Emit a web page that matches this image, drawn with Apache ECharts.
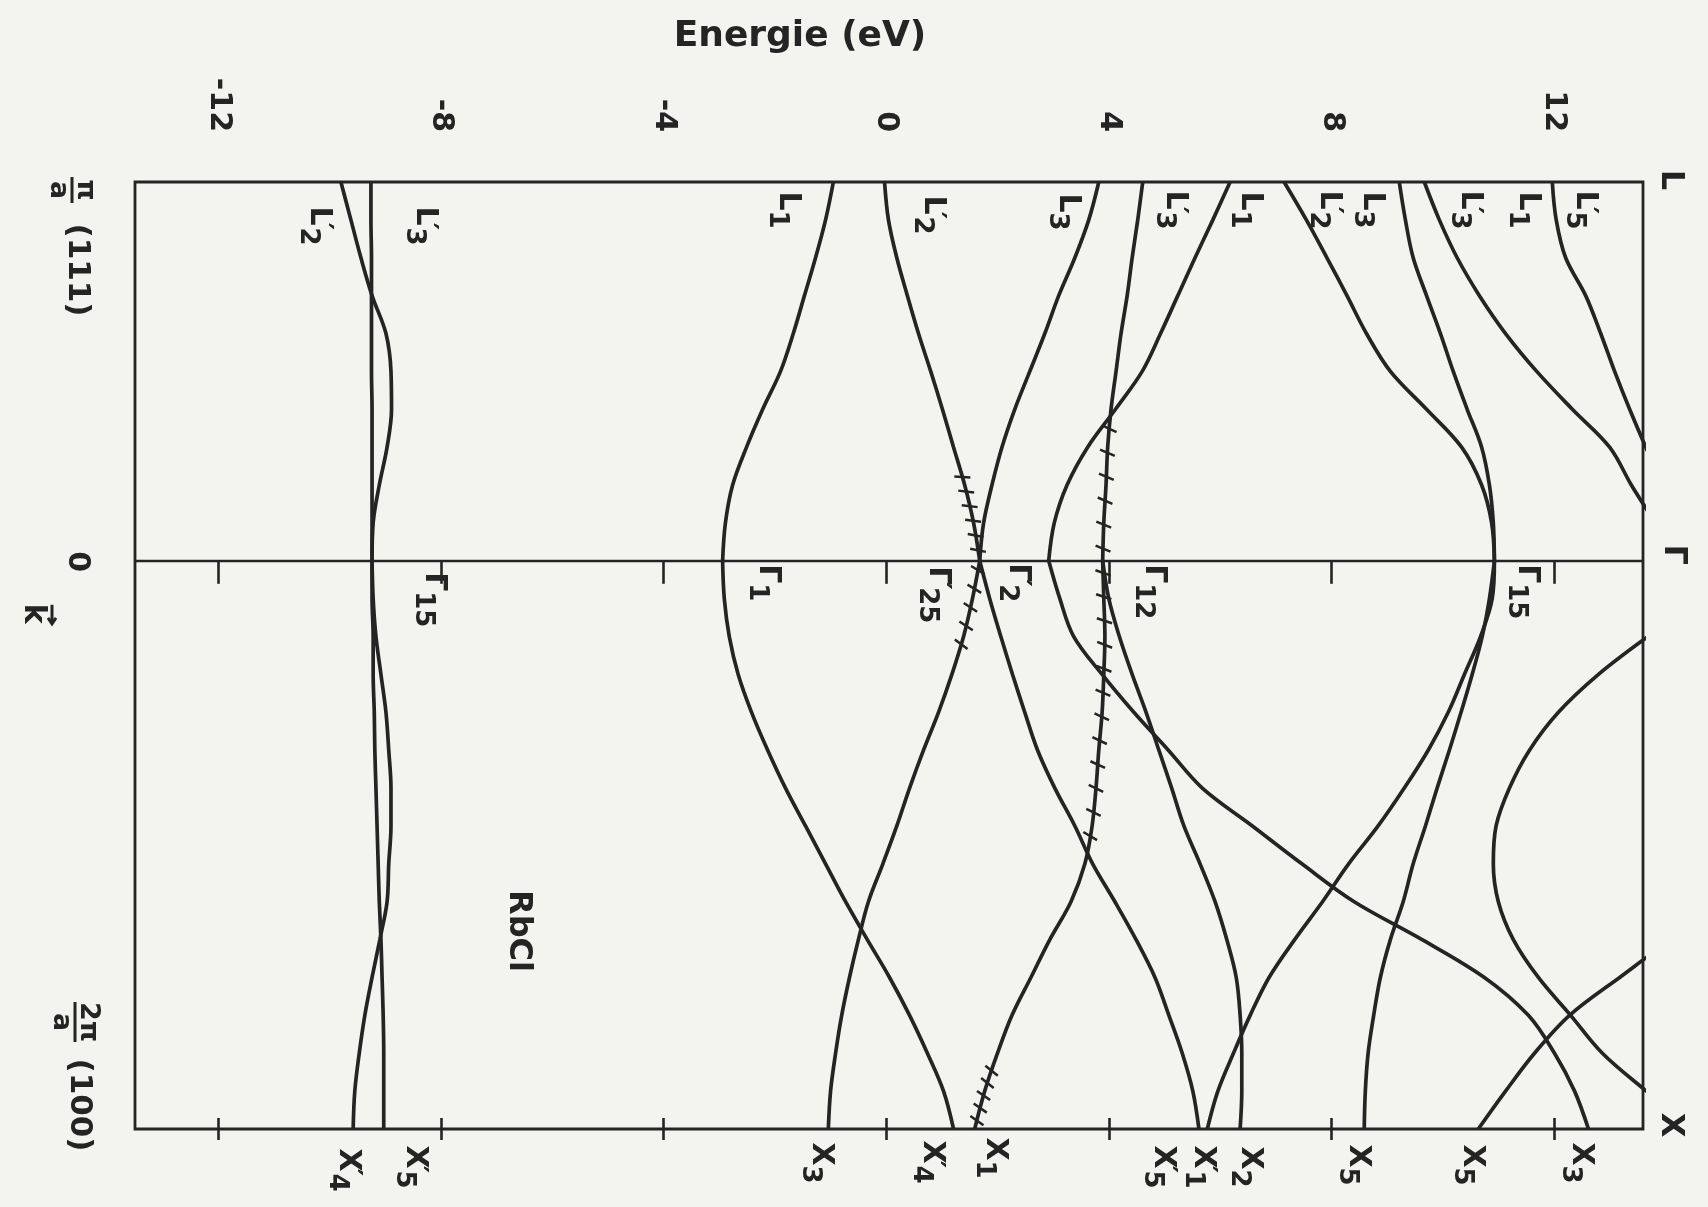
<!DOCTYPE html>
<html>
<head>
<meta charset="utf-8">
<title>RbCl band structure</title>
<script src="https://cdn.jsdelivr.net/npm/echarts@6/dist/echarts.min.js"></script>
<style>
  html, body { margin: 0; padding: 0; background: #f3f3f0; }
  #chart { width: 1708px; height: 1207px; }
</style>
</head>
<body>
<div id="chart"></div>
<script>
// ---- k path: L (-1) -> Γ (0) -> X (1.5), energies in eV ----
const kL = [-1, -0.9, -0.8, -0.7, -0.6, -0.5, -0.4, -0.3, -0.2, -0.1, 0];
const kX = [0, 0.1, 0.2, 0.3, 0.4, 0.5, 0.6, 0.7, 0.8, 0.9, 1.0, 1.1, 1.2, 1.3, 1.4, 1.5];

// Λ direction (L -> Γ)
const lBand1  = [-9.80, -9.62, -9.44, -9.24, -8.99, -8.90, -8.89, -8.97, -9.11, -9.22, -9.24];
const lBand2  = [-9.26, -9.26, -9.25, -9.25, -9.25, -9.25, -9.24, -9.24, -9.24, -9.24, -9.24];
const lBand3  = [-0.95, -1.09, -1.27, -1.47, -1.67, -1.90, -2.22, -2.51, -2.76, -2.89, -2.94];
const lBand4  = [-0.03, 0.04, 0.19, 0.38, 0.58, 0.80, 1.01, 1.21, 1.41, 1.57, 1.68];
const lBand5  = [3.82, 3.64, 3.39, 3.10, 2.85, 2.58, 2.31, 2.08, 1.90, 1.75, 1.68];
const lBand6  = [4.61, 4.52, 4.42, 4.33, 4.22, 4.13, 4.04, 3.98, 3.95, 3.91, 3.89];
const lBand7  = [6.18, 5.87, 5.55, 5.24, 4.93, 4.60, 4.12, 3.62, 3.25, 3.02, 2.92];
const lBand8  = [7.15, 7.55, 7.92, 8.28, 8.63, 9.06, 9.71, 10.34, 10.70, 10.88, 10.93];
const lBand9  = [9.22, 9.33, 9.47, 9.71, 9.96, 10.19, 10.44, 10.70, 10.84, 10.91, 10.93];
const lBand10 = [9.67, 9.94, 10.26, 10.66, 11.13, 11.69, 12.33, 13.00, 13.39, 13.81, 14.13];
const lBand11 = [11.97, 12.04, 12.21, 12.57, 12.84, 13.09, 13.36, 13.65, 13.96, 14.23, 14.50];

// Δ direction (Γ -> X)
const xBand1  = [-9.24, -9.22, -9.17, -9.08, -8.99, -8.94, -8.90, -8.90, -8.94, -8.97, -9.10, -9.24, -9.37, -9.47, -9.55, -9.58];
const xBand2  = [-9.24, -9.24, -9.22, -9.22, -9.20, -9.19, -9.17, -9.15, -9.13, -9.11, -9.08, -9.06, -9.04, -9.03, -9.03, -9.03];
const xBand3  = [-2.94, -2.91, -2.82, -2.66, -2.42, -2.13, -1.81, -1.45, -1.09, -0.73, -0.34, 0.06, 0.42, 0.74, 1.03, 1.21];
const xBand4  = [1.68, 1.55, 1.39, 1.18, 0.94, 0.67, 0.42, 0.19, -0.06, -0.32, -0.50, -0.66, -0.80, -0.91, -1.00, -1.04];
const xBand5  = [1.68, 1.86, 2.06, 2.27, 2.49, 2.72, 3.03, 3.39, 3.71, 4.11, 4.49, 4.83, 5.08, 5.32, 5.51, 5.62];
const xBand6  = [3.89, 3.91, 3.93, 3.91, 3.88, 3.82, 3.77, 3.70, 3.57, 3.32, 2.94, 2.60, 2.26, 2.00, 1.77, 1.59];
const xBand7  = [3.89, 4.00, 4.19, 4.42, 4.67, 4.90, 5.13, 5.35, 5.64, 5.91, 6.12, 6.29, 6.36, 6.39, 6.39, 6.36];
const xBand8  = [2.92, 3.12, 3.37, 3.88, 4.45, 5.07, 5.68, 6.58, 7.47, 8.41, 9.63, 10.75, 11.54, 12.01, 12.37, 12.62];
const xBand9  = [10.93, 10.89, 10.68, 10.39, 10.10, 9.74, 9.31, 8.84, 8.31, 7.84, 7.34, 6.88, 6.54, 6.24, 5.96, 5.77];
const xBand10 = [10.93, 10.84, 10.71, 10.53, 10.33, 10.12, 9.90, 9.69, 9.47, 9.29, 9.06, 8.88, 8.76, 8.66, 8.61, 8.59];
const xBand11 = [15.75, 14.67, 13.69, 12.80, 12.08, 11.56, 11.20, 10.96, 10.91, 11.00, 11.27, 11.72, 12.30, 12.87, 13.66, 14.49];
const xBand12 = [null, null, null, null, null, null, null, null, null, 15.40, 14.13, 13.18, 12.28, 11.65, 11.13, 10.64];

// level names at the symmetry points: [name, level energy (eV)]
const levelsL = [["L'2", -9.80], ["L'3", -9.25], ["L1", -0.95], ["L'2", -0.03], ["L3", 3.82], ["L'3", 4.61],
                 ["L1", 6.18], ["L'2", 7.15], ["L3", 9.22], ["L'3", 9.67], ["L1", 11.97], ["L'5", 11.97]];
const levelsG = [["Γ15", -9.24], ["Γ1", -2.94], ["Γ25'", 1.68], ["Γ'2", 2.92], ["Γ12", 3.89], ["Γ15", 10.93]];
const levelsX = [["X'4", -9.58], ["X'5", -9.03], ["X3", -1.04], ["X'4", 1.21], ["X1", 1.59], ["X'5", 5.62],
                 ["X'1", 5.77], ["X2", 6.36], ["X5", 8.59], ["X5", 10.64], ["X3", 12.62]];

const energyTicks = [-12, -8, -4, 0, 4, 8, 12];

// ---- layout / style ----
const E_MIN = -13.5, E_MAX = 13.6, K_L = -1, K_G = 0, K_X = 1.5;
const INK = '#242424';
const FONT = "'DejaVu Sans', 'Liberation Sans', sans-serif";
const WEIGHT = 'bold';

// label offsets in pixels from the level they name
const offL = [[-22, 44], [53, 44], [-46, 28], [48, 33], [-31, 30], [32, 28], [20, 28], [45, 28], [-27, 28], [45, 28], [-25, 28], [32, 28]];
const offG = [[62, 39], [45, 22], [-42, 34], [-31, 22], [51, 31], [32, 31]];
const offX = [[-5, 41], [31, 38], [-8, 34], [-22, 33], [20, 29], [-36, 38], [-4, 38], [10, 38], [-6, 36], [-6, 36], [-8, 34]];

const lBands = [lBand1, lBand2, lBand3, lBand4, lBand5, lBand6, lBand7, lBand8, lBand9, lBand10, lBand11];
const xBands = [xBand1, xBand2, xBand3, xBand4, xBand5, xBand6, xBand7, xBand8, xBand9, xBand10, xBand11, xBand12];

// stretches of bands marked with cross hatching (k range, spacing in px)
const hatched = [
  { band: lBand4, k: kL, from: -0.24, to: 0, step: 15 },
  { band: xBand4, k: kX, from: 0, to: 0.25, step: 19 },
  { band: lBand6, k: kL, from: -0.38, to: 0, step: 24 },
  { band: xBand6, k: kX, from: 0, to: 0.77, step: 24 },
  { band: xBand6, k: kX, from: 1.33, to: 1.5, step: 13 }
];

function toPoints(ks, es) {
  const out = [];
  es.forEach((e, i) => { if (e != null) out.push([e, ks[i]]); });
  return out;
}

const RICH = {
  m: { fontSize: 30, lineHeight: 30, verticalAlign: 'top', fontFamily: FONT, fontWeight: WEIGHT, fill: INK },
  p: { fontSize: 28, lineHeight: 30, verticalAlign: 'top', width: 2, fontFamily: FONT, fontWeight: WEIGHT, fill: INK },
  s: { fontSize: 26, lineHeight: 26, padding: [13, 0, 0, 0], verticalAlign: 'top', fontFamily: FONT, fontWeight: WEIGHT, fill: INK }
};

function symText(name) {
  const base = name.charAt(0);
  const prime = name.indexOf("'") >= 0;
  const sub = name.replace(/[^0-9]/g, '');
  return '{m|' + base + '}' + (prime ? '{p|\u2032}' : '') + '{s|' + sub + '}';
}

const labelItems = [];
levelsL.forEach((l, i) => labelItems.push({ kind: 'sym', name: l[0], e: l[1], k: K_L, dx: offL[i][0], dy: offL[i][1] }));
levelsG.forEach((l, i) => labelItems.push({ kind: 'sym', name: l[0], e: l[1], k: K_G, dx: offG[i][0], dy: offG[i][1] }));
levelsX.forEach((l, i) => labelItems.push({ kind: 'sym', name: l[0], e: l[1], k: K_X, dx: offX[i][0], dy: offX[i][1] }));
// symmetry points on the right edge, k scale on the left edge
labelItems.push({ kind: 'text', text: 'L', e: E_MAX, k: K_L, dx: 27, dy: -2, size: 32 });
labelItems.push({ kind: 'text', text: 'Γ', e: E_MAX, k: K_G, dx: 30, dy: -6, size: 32 });
labelItems.push({ kind: 'text', text: 'X', e: E_MAX, k: K_X, dx: 27, dy: -4, size: 32 });
labelItems.push({ kind: 'frac', num: 'π', den: 'a', e: E_MIN, k: K_L, dx: -63, dy: 8 });
labelItems.push({ kind: 'text', text: '(111)', e: E_MIN, k: K_L, dx: -58, dy: 88, size: 31 });
labelItems.push({ kind: 'text', text: '0', e: E_MIN, k: K_G, dx: -58, dy: 1, size: 30 });
labelItems.push({ kind: 'vec', text: 'k', e: E_MIN, k: K_G, dx: -100, dy: 53 });
labelItems.push({ kind: 'frac', num: '2π', den: 'a', e: E_MIN, k: K_X, dx: -60, dy: -107 });
labelItems.push({ kind: 'text', text: '(100)', e: E_MIN, k: K_X, dx: -56, dy: -24, size: 31 });

function txt(text, x, y, size) {
  return { type: 'text', x, y, style: { text, align: 'center', verticalAlign: 'middle', fill: INK,
    fontFamily: FONT, fontWeight: WEIGHT, fontSize: size } };
}

function labelItem(params, api) {
  const L = labelItems[params.dataIndex];
  const p = api.coord([L.e, L.k]);
  const x = p[0] + L.dx, y = p[1] + L.dy;
  const rot = -Math.PI / 2;
  if (L.kind === 'sym') {
    return { type: 'text', x, y, rotation: rot,
      style: { text: symText(L.name), rich: RICH, align: 'center', verticalAlign: 'middle', fill: INK,
        fontFamily: FONT, fontWeight: WEIGHT, fontSize: 30 } };
  }
  if (L.kind === 'text') {
    const t = txt(L.text, x, y, L.size);
    t.rotation = rot;
    return t;
  }
  if (L.kind === 'frac') {
    const w = L.num.length > 1 ? 40 : 26;
    return { type: 'group', x, y, rotation: rot, children: [
      txt(L.num, 0, -13, 27),
      { type: 'line', shape: { x1: -w / 2, y1: 0, x2: w / 2, y2: 0 }, style: { stroke: INK, lineWidth: 3 } },
      txt(L.den, 0, 14, 27)
    ] };
  }
  // k with vector arrow
  return { type: 'group', x, y, rotation: rot, children: [
    txt(L.text, 0, 2, 30),
    { type: 'polyline', shape: { points: [[-9, -17], [9, -17]] }, style: { stroke: INK, lineWidth: 3, fill: null } },
    { type: 'polyline', shape: { points: [[4, -21], [10, -17], [4, -13]] }, style: { stroke: INK, lineWidth: 3, fill: null } }
  ] };
}

function hatchItem(params, api) {
  const h = hatched[params.dataIndex];
  const pts = [];
  h.k.forEach((k, j) => { if (h.band[j] != null) pts.push({ k, p: api.coord([h.band[j], k]) }); });
  const poly = [];
  for (let j = 0; j < pts.length - 1; j++) {
    const a = pts[j], b = pts[j + 1];
    const lo = Math.max(a.k, h.from), hi = Math.min(b.k, h.to);
    if (hi < lo) continue;
    const at = t => {
      const f = (t - a.k) / (b.k - a.k);
      return [a.p[0] + (b.p[0] - a.p[0]) * f, a.p[1] + (b.p[1] - a.p[1]) * f];
    };
    if (!poly.length) poly.push(at(lo));
    poly.push(at(hi));
  }
  const children = [];
  const half = 8, tilt = 0.35;
  let d0 = h.step / 2;
  for (let j = 0; j < poly.length - 1; j++) {
    const [x1, y1] = poly[j], [x2, y2] = poly[j + 1];
    const len = Math.hypot(x2 - x1, y2 - y1);
    if (len === 0) continue;
    const tx = (x2 - x1) / len, ty = (y2 - y1) / len;
    let nx = -ty, ny = tx;
    if (nx < 0) { nx = -nx; ny = -ny; }
    const rx = nx * Math.cos(tilt) - ny * Math.sin(tilt);
    const ry = nx * Math.sin(tilt) + ny * Math.cos(tilt);
    let d = d0;
    while (d <= len) {
      const cx = x1 + tx * d, cy = y1 + ty * d;
      children.push({ type: 'line', shape: { x1: cx - rx * half, y1: cy - ry * half, x2: cx + rx * half, y2: cy + ry * half },
        style: { stroke: INK, lineWidth: 2.5 } });
      d += h.step;
    }
    d0 = d - len;
  }
  return { type: 'group', children };
}

const bandStyle = { color: INK, width: 3.7 };
const series = [];
lBands.forEach((b, i) => series.push({
  type: 'line', data: toPoints(kL, b), showSymbol: false, symbol: 'none', smooth: 0.35,
  lineStyle: bandStyle, silent: true, z: 2,
  markLine: i === 0 ? { silent: true, symbol: ['none', 'none'], label: { show: false },
    lineStyle: { color: INK, width: 2.4, type: 'solid' }, data: [{ yAxis: K_G }] } : undefined
}));
xBands.forEach(b => series.push({
  type: 'line', data: toPoints(kX, b), showSymbol: false, symbol: 'none', smooth: 0.35,
  lineStyle: bandStyle, silent: true, z: 2
}));
series.push({ type: 'custom', renderItem: hatchItem, data: hatched.map(h => [h.band[0], h.k[0]]), silent: true, z: 3 });
series.push({ type: 'custom', renderItem: labelItem, data: labelItems.map(l => [l.e, l.k]), silent: true, z: 4 });

const chart = echarts.init(document.getElementById('chart'), null, { renderer: 'canvas' });
chart.setOption({
  animation: false,
  backgroundColor: '#f3f3f0',
  grid: { left: 135, right: 65, top: 182, bottom: 78, show: true, borderColor: INK, borderWidth: 2.8, backgroundColor: 'transparent' },
  xAxis: [
    { type: 'value', position: 'top', min: E_MIN, max: E_MAX, offset: 12,
      axisLine: { show: false }, splitLine: { show: false },
      axisTick: { show: true, inside: true, length: 23, customValues: energyTicks, lineStyle: { color: INK, width: 2.6 } },
      axisLabel: { show: true, customValues: energyTicks, rotate: -90, margin: 38, fontSize: 30, fontWeight: WEIGHT, color: INK, fontFamily: FONT } },
    { type: 'value', position: 'bottom', min: E_MIN, max: E_MAX, offset: 11,
      axisLine: { show: false }, splitLine: { show: false }, axisLabel: { show: false },
      axisTick: { show: true, inside: true, length: 22, customValues: energyTicks, lineStyle: { color: INK, width: 2.6 } } }
  ],
  yAxis: { type: 'value', min: K_L, max: K_X, inverse: true,
    axisLine: { show: false }, axisTick: { show: false }, axisLabel: { show: false }, splitLine: { show: false } },
  graphic: [
    { type: 'text', x: 800, y: 37, style: { text: 'Energie (eV)', align: 'center', verticalAlign: 'middle', fill: INK,
      fontFamily: FONT, fontWeight: WEIGHT, fontSize: 36 } },
    { type: 'text', x: 518, y: 931, rotation: -Math.PI / 2, style: { text: 'RbCl', align: 'center', verticalAlign: 'middle', fill: INK,
      fontFamily: FONT, fontWeight: WEIGHT, fontSize: 32 } }
  ],
  series
});
</script>
</body>
</html>
